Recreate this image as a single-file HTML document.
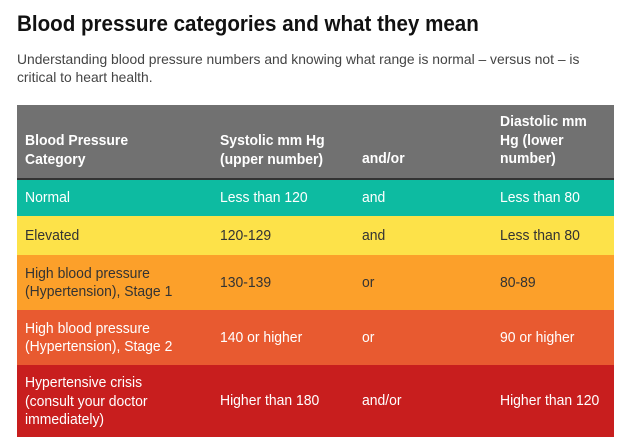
<!DOCTYPE html>
<html><head><meta charset="utf-8"><style>
body{margin:0;width:630px;height:447px;background:#fff;position:relative;overflow:hidden;font-family:"Liberation Sans",Arial,sans-serif;}
.t{position:absolute;white-space:nowrap;transform-origin:0 0;}
.r{position:absolute;left:17px;width:597px;}
.c{position:absolute;font-size:15px;line-height:18.5px;transform:scaleX(0.93);transform-origin:0 50%;white-space:nowrap;top:50%;}
.w{color:#fff}.b{font-weight:bold}
</style></head><body>
<div class="t" style="left:17px;top:11px;font-size:22px;font-weight:bold;color:#111;transform:scaleX(0.935)">Blood pressure categories and what they mean</div>
<div class="t" style="left:17px;top:50px;font-size:14px;line-height:18px;color:#444;transform:scaleX(0.99)">Understanding blood pressure numbers and knowing what range is normal – versus not – is<br>critical to heart health.</div>

<div class="r" style="top:105px;height:73px;background:#717171"></div>
<div class="r" style="top:178px;height:2px;background:#333"></div>
<div class="r" style="top:180px;height:36px;background:#0dbba1"></div>
<div class="r" style="top:216px;height:39px;background:#fde249"></div>
<div class="r" style="top:255px;height:55px;background:#fca02a"></div>
<div class="r" style="top:310px;height:55px;background:#e85a30"></div>
<div class="r" style="top:365px;height:72px;background:#c81e1e"></div>

<div class="r" style="top:105px;height:73px">
<div class="c w b" style="left:8px;top:27px">Blood Pressure<br>Category</div>
<div class="c w b" style="left:203px;top:27px">Systolic mm Hg<br>(upper number)</div>
<div class="c w b" style="left:345px;top:45px">and/or</div>
<div class="c w b" style="left:483px;top:8px">Diastolic mm<br>Hg (lower<br>number)</div>
</div>

<div class="r" style="top:180px;height:36px">
<div class="c w" style="left:8px;margin-top:-9px">Normal</div>
<div class="c w" style="left:203px;margin-top:-9px">Less than 120</div>
<div class="c w" style="left:345px;margin-top:-9px">and</div>
<div class="c w" style="left:483px;margin-top:-9px">Less than 80</div>
</div>
<div class="r" style="top:216px;height:39px;color:#333">
<div class="c" style="left:8px;margin-top:-9px">Elevated</div>
<div class="c" style="left:203px;margin-top:-9px">120-129</div>
<div class="c" style="left:345px;margin-top:-9px">and</div>
<div class="c" style="left:483px;margin-top:-9px">Less than 80</div>
</div>
<div class="r" style="top:255px;height:55px;color:#333">
<div class="c" style="left:8px;margin-top:-18px">High blood pressure<br>(Hypertension), Stage 1</div>
<div class="c" style="left:203px;margin-top:-9px">130-139</div>
<div class="c" style="left:345px;margin-top:-9px">or</div>
<div class="c" style="left:483px;margin-top:-9px">80-89</div>
</div>
<div class="r" style="top:310px;height:55px">
<div class="c w" style="left:8px;margin-top:-18px">High blood pressure<br>(Hypertension), Stage 2</div>
<div class="c w" style="left:203px;margin-top:-9px">140 or higher</div>
<div class="c w" style="left:345px;margin-top:-9px">or</div>
<div class="c w" style="left:483px;margin-top:-9px">90 or higher</div>
</div>
<div class="r" style="top:365px;height:72px">
<div class="c w" style="left:8px;margin-top:-27px">Hypertensive crisis<br>(consult your doctor<br>immediately)</div>
<div class="c w" style="left:203px;margin-top:-9px">Higher than 180</div>
<div class="c w" style="left:345px;margin-top:-9px">and/or</div>
<div class="c w" style="left:483px;margin-top:-9px">Higher than 120</div>
</div>
</body></html>
